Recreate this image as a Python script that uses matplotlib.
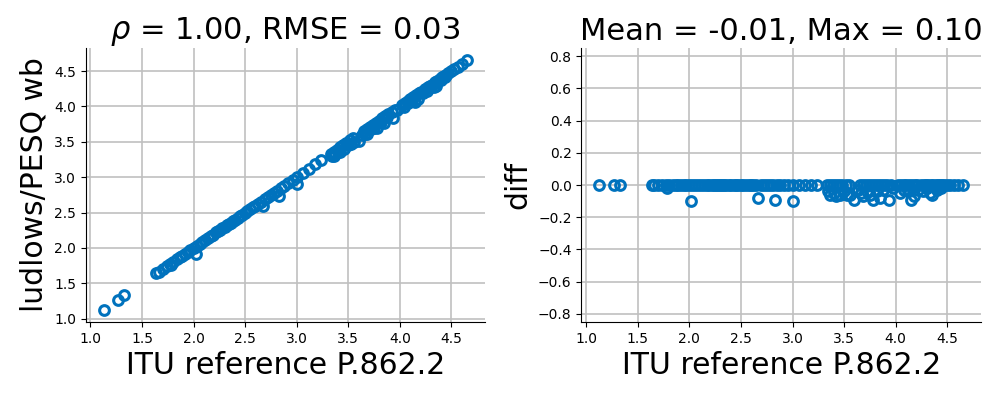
import numpy as np
import matplotlib
matplotlib.use('Agg')
import matplotlib.pyplot as plt

# reference scores where ludlows/PESQ matches exactly (diff = 0)
ref_exact = [1.13, 1.27, 1.33,
             1.64, 1.66, 1.70, 1.74, 1.77, 1.80, 1.84, 1.87, 1.89, 1.92, 1.95, 1.97,
             2.00, 2.03, 2.06, 2.08, 2.11, 2.14, 2.17, 2.19, 2.22, 2.24, 2.26, 2.28,
             2.30, 2.32, 2.34, 2.36, 2.38, 2.40, 2.43, 2.45, 2.47, 2.50, 2.52, 2.55,
             2.58, 2.60, 2.62, 2.65, 2.69, 2.72, 2.75, 2.78, 2.81, 2.85, 2.88, 2.92,
             2.96, 3.00, 3.06, 3.12, 3.18, 3.24,
             3.33, 3.36, 3.39, 3.42, 3.45, 3.48, 3.52, 3.55,
             3.65, 3.68, 3.71, 3.74, 3.77, 3.80, 3.83, 3.86, 3.89, 3.92, 3.95,
             4.02, 4.05, 4.08, 4.10, 4.13, 4.16, 4.19, 4.21, 4.24, 4.27, 4.29, 4.31,
             4.34, 4.36, 4.39, 4.41, 4.43, 4.45, 4.47, 4.50, 4.53, 4.56, 4.60, 4.65]

# reference scores where ludlows/PESQ is slightly lower
ref_off = [1.78, 2.02, 2.67, 2.83, 3.00, 3.34, 3.36, 3.40, 3.42, 3.46, 3.50, 3.53,
           3.56, 3.60, 3.63, 3.66, 3.68, 3.72, 3.75, 3.78, 3.82, 3.85, 3.88, 3.93,
           3.97, 4.04, 4.08, 4.12, 4.15, 4.18, 4.22, 4.26, 4.30, 4.33, 4.35, 4.40, 4.44]
diff_off = [-0.02, -0.10, -0.08, -0.09, -0.10, -0.04, -0.06, -0.05, -0.07, -0.06, -0.04, -0.06,
            -0.06, -0.09, -0.03, -0.05, -0.07, -0.04, -0.06, -0.09, -0.04, -0.08, -0.03, -0.09,
            -0.02, -0.05, -0.03, -0.04, -0.09, -0.07, -0.03, -0.04, -0.02, -0.05, -0.06, -0.03, -0.02]

ref = np.array(ref_exact + ref_off)
diff = np.array([0.0] * len(ref_exact) + diff_off)
pesq = ref + diff

color = '#0072bd'

fig = plt.figure(figsize=(9.97, 3.99), dpi=100)
ax1 = fig.add_axes([85.7 / 997, 77 / 399, 399.3 / 997, 274 / 399])
ax2 = fig.add_axes([581.3 / 997, 77 / 399, 399.7 / 997, 274 / 399])

for ax in (ax1, ax2):
    ax.set_axisbelow(True)
    ax.grid(True, color='#c0c0c0', linewidth=1.2)
    ax.spines['top'].set_visible(False)
    ax.spines['right'].set_visible(False)
    ax.tick_params(labelsize=10)
    ax.set_xticks([1.0, 1.5, 2.0, 2.5, 3.0, 3.5, 4.0, 4.5])
    ax.set_xlabel('ITU reference P.862.2', fontsize=21.5)

ax1.plot(ref, pesq, 'o', mfc='none', mec=color, ms=7, mew=2.2)
ax1.set_yticks([1.0, 1.5, 2.0, 2.5, 3.0, 3.5, 4.0, 4.5])
ax1.set_ylabel('ludlows/PESQ wb', fontsize=21.5)
ax1.set_title(r'$\rho$ = 1.00, RMSE = 0.03', fontsize=22)

ax2.plot(ref, diff, 'o', mfc='none', mec=color, ms=7, mew=2.2)
ax2.set_ylim(-0.85, 0.85)
ax2.set_xlim(ax1.get_xlim())
ax2.set_yticks(np.arange(-0.8, 0.81, 0.2))
ax2.set_ylabel('diff', fontsize=21.5)
ax2.set_title('Mean = -0.01, Max = 0.10', fontsize=22)

fig.savefig('out.png', dpi=100)
